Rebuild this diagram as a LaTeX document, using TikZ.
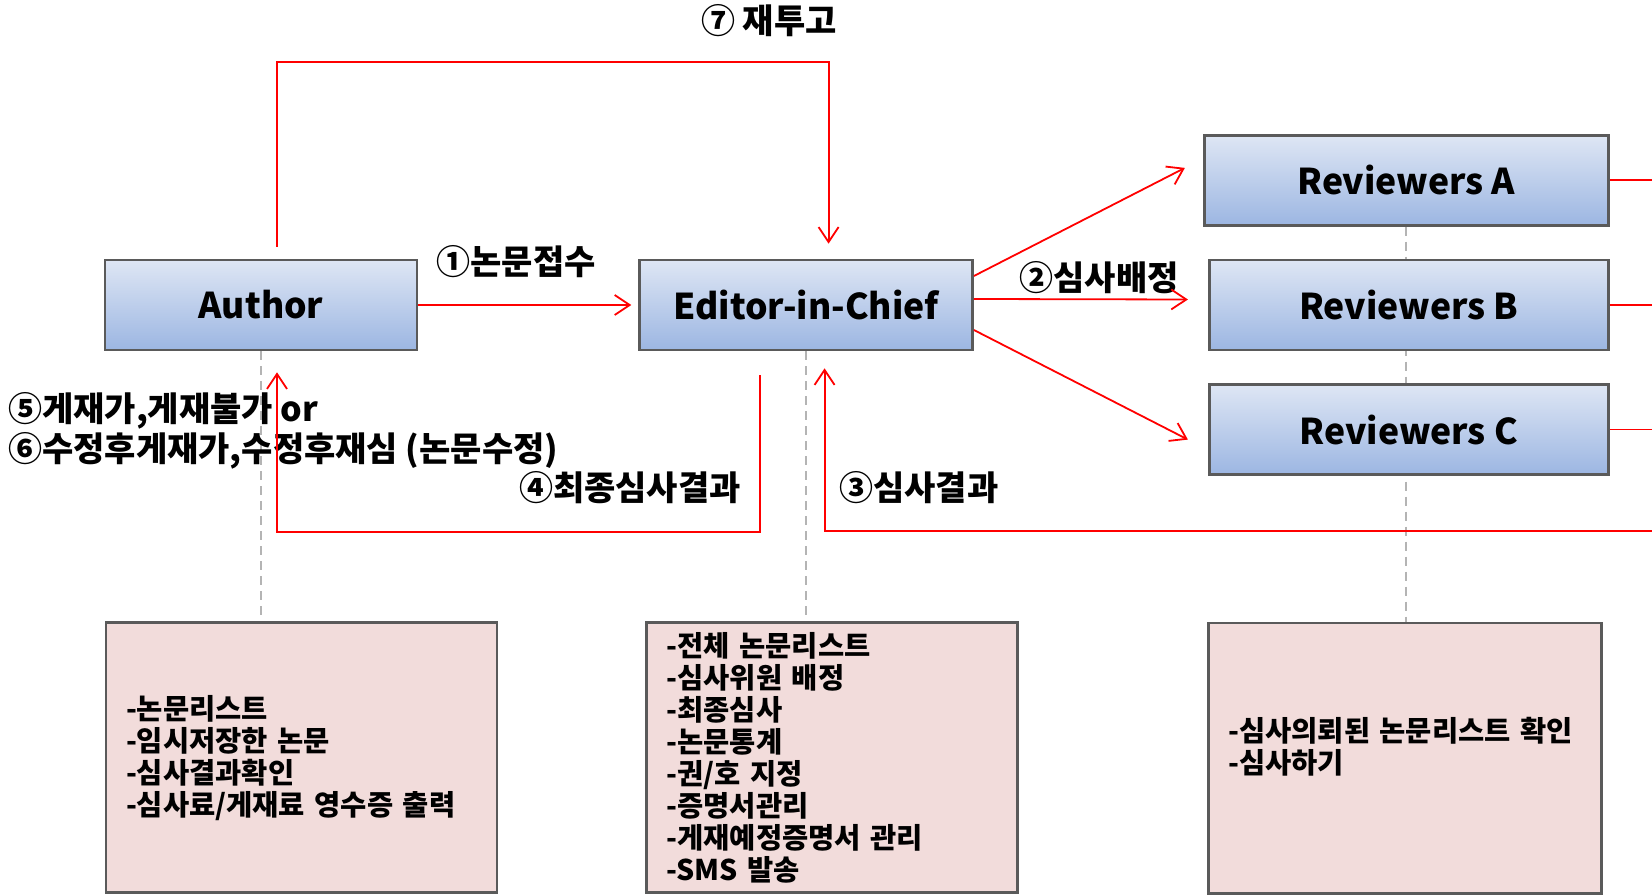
\documentclass[tikz,border=0pt]{standalone}
\usepackage{fontspec}
\setmainfont{Noto Sans CJK KR}
\usetikzlibrary{positioning,arrows.meta,backgrounds}
\definecolor{boxtop}{HTML}{DEE6F4}
\definecolor{boxbot}{HTML}{9CB6E2}
\definecolor{boxline}{HTML}{5A5A5A}
\definecolor{notefill}{HTML}{F2DCDB}
\definecolor{guide}{HTML}{B4B4B4}
\tikzset{
    role/.style={
        draw=boxline, line width=2.6pt,
        top color=boxtop, bottom color=boxbot,
        minimum height=90pt,
        font=\fontsize{35.5}{42}\selectfont\bfseries
    },
    menu/.style={
        draw=boxline, line width=2.6pt, fill=notefill,
        minimum height=270pt, inner xsep=20pt,
        align=left,
        font=\fontsize{28.5}{32}\selectfont\bfseries
    },
    steplabel/.style={
        inner sep=0pt, align=left,
        font=\fontsize{34}{40}\selectfont\bfseries
    }
}

\begin{document}
\begin{tikzpicture}[
    x=1pt, y=1pt,
    flow/.style={-{Straight Barb[length=15pt,width=20pt]}, red, line width=1.8pt},
    flowline/.style={red, line width=1.8pt},
    guideline/.style={draw=guide, line width=1.5pt, dash pattern=on 9pt off 6pt},
]
\useasboundingbox (0,0) rectangle (1652,895);

% ===============================
%         role boxes (top)
% ===============================

\node[role, minimum width=312pt] (author) at (261,590) {Author};

\node[role, minimum width=333pt, right=220pt of author] (editor) {Editor-in-Chief};

\node[role, minimum width=399pt, right=234pt of editor] (revB) {Reviewers B};

\node[role, minimum width=404pt, above=32pt of revB, xshift=-2.5pt] (revA) {Reviewers A};

\node[role, minimum width=399pt, below=32pt of revB] (revC) {Reviewers C};


% ===============================
%         menu boxes (bottom)
% ===============================

\node[menu, text width=351pt, below=270pt of author, xshift=40.5pt] (authinfo)
    {-논문리스트\\-임시저장한 논문\\-심사결과확인\\-심사료/게재료 영수증 출력};

\node[menu, text width=331pt, below=270pt of editor, xshift=26pt] (edinfo)
    {-전체 논문리스트\\-심사위원 배정\\-최종심사\\-논문통계\\-권/호 지정\\-증명서관리\\-게재예정증명서 관리\\-SMS 발송};

\node[menu, text width=353pt, below=146pt of revC, xshift=-4pt] (revinfo)
    {-심사의뢰된 논문리스트 확인\\-심사하기\\[-6pt]\mbox{}};


% ===============================
%          guide lines
% ===============================

\begin{scope}[on background layer]
\draw[guideline] (author.south) -- (author.south |- authinfo.north);
\draw[guideline] (editor.south) -- (editor.south |- edinfo.north);
\draw[guideline] (revA.south) -- (revA.south |- revinfo.north);
\end{scope}


% ===============================
%              labels
% ===============================

\node[steplabel] (lbl7) at (769,874) {⑦ 재투고};
\node[steplabel] (lbl1) at (516,633) {①논문접수};
\node[steplabel] (lbl2) at (1099,617) {②심사배정};
\node[steplabel, anchor=west] (lbl56) at (8,464)
    {⑤게재가,게재불가 or\\⑥수정후게재가,수정후재심 (논문수정)};
\node[steplabel, anchor=east] (lbl4) at (741,407) {④최종심사결과};
\node[steplabel, anchor=west] (lbl3) at (839,407) {③심사결과};


% ===============================
%              arrows
% ===============================

\coordinate (rvback) at (1665,364);

\draw[flow] ([xshift=16pt,yshift=12pt]author.north) -- ++(0,185pt)
    -| ([xshift=22.5pt,yshift=15pt]editor.north);

\draw[flow] (author.east) -- ([xshift=-7pt]editor.west);

\draw[flow] ([yshift=29pt]editor.east) -- ([xshift=-18pt,yshift=12.5pt]revA.west);
\draw[flow] ([yshift=6pt]editor.east) -- ([xshift=-20pt,yshift=5.5pt]revB.west);
\draw[flow] ([yshift=-25pt]editor.east) -- ([xshift=-20pt,yshift=-10pt]revC.west);

\draw[flowline] (revA.east) -- (revA.east -| rvback);
\draw[flowline] (revB.east) -- (revB.east -| rvback);
\draw[flowline] (revC.east) -- (revC.east -| rvback);

\draw[flow] (rvback) -| ([xshift=18.5pt,yshift=-17pt]editor.south);

\draw[flow] ([xshift=-46.5pt,yshift=-24pt]editor.south) -- ++(0,-157pt)
    -| ([xshift=16pt,yshift=-21pt]author.south);

\end{tikzpicture}
\end{document}
